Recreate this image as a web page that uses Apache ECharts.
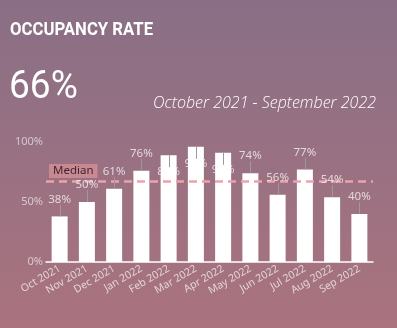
<!DOCTYPE html>
<html>
<head>
<meta charset="utf-8">
<script src="https://cdn.jsdelivr.net/npm/echarts@6/dist/echarts.min.js"></script>
<style>
html,body{margin:0;padding:0;}
#chart{width:397px;height:328px;}
</style>
</head>
<body>
<div id="chart"></div>
<script>
const titleText = 'OCCUPANCY RATE';
const headlineText = '66%';
const periodText = 'October 2021 - September 2022';
const categories = ['Oct 2021','Nov 2021','Dec 2021','Jan 2022','Feb 2022','Mar 2022','Apr 2022','May 2022','Jun 2022','Jul 2022','Aug 2022','Sep 2022'];
const occupancy = [38,50,61,76,89,96,91,74,56,77,54,40];
const medianLabel = 'Median';

const chart = echarts.init(document.getElementById('chart'));
const labelFont = 'Noto Sans';
chart.setOption({
  animation: false,
  backgroundColor: {
    type: 'linear', x: 0, y: 0, x2: 0, y2: 1,
    colorStops: [{offset: 0, color: '#896f86'}, {offset: 1, color: '#aa737e'}]
  },
  graphic: [
    {type: 'text', x: 10, y: 30, scaleX: 0.88, style: {text: titleText, font: 'bold 19px Roboto', fill: '#fff', verticalAlign: 'middle'}},
    {type: 'text', x: 9, y: 88, scaleX: 0.95, style: {text: headlineText, font: '39px Roboto', fill: '#fff', verticalAlign: 'middle'}},
    {type: 'text', x: 376, y: 103, style: {text: periodText, font: 'italic 300 16px "Open Sans"', fill: '#fff', align: 'right', verticalAlign: 'middle'}}
  ],
  grid: {left: 46, right: 24, top: 142, bottom: 66},
  xAxis: {
    type: 'category', data: categories,
    axisLine: {lineStyle: {color: '#fff', width: 1.5}},
    axisTick: {show: false},
    axisLabel: {rotate: 30, color: 'rgba(255,255,255,0.7)', fontSize: 10.5, fontFamily: labelFont, margin: 6, interval: 0}
  },
  yAxis: {
    type: 'value', min: 0, max: 100, interval: 50,
    splitLine: {show: false},
    axisLabel: {formatter: '{value}%', color: 'rgba(255,255,255,0.6)', fontSize: 11, fontFamily: labelFont, margin: 3}
  },
  series: [{
    type: 'bar',
    data: occupancy,
    barWidth: 16,
    itemStyle: {color: '#fff'},
    markLine: {
      silent: true,
      symbol: 'none',
      data: [{type: 'median', name: medianLabel}],
      lineStyle: {color: '#eba2ab', type: [8, 5], width: 2.5},
      label: {
        position: 'insideStartTop', formatter: medianLabel,
        color: '#3b2834', fontSize: 11.5, fontFamily: labelFont,
        backgroundColor: '#c98993', padding: [1, 4, 1, 4], distance: 3
      }
    }
  }, {
    type: 'custom',
    data: occupancy.map((v, i) => [i, v]),
    z: 5,
    renderItem: function (params, api) {
      const v = api.value(1);
      const top = api.coord([api.value(0), v]);
      const tall = v > 85;
      const ly = tall ? top[1] + 17 : top[1] - 17;
      const lx = Math.round(top[0]) + 0.5;
      return {
        type: 'group',
        children: [
          {type: 'line', shape: {x1: lx, y1: tall ? top[1] : ly + 5, x2: lx, y2: tall ? ly - 5 : top[1]},
           style: {stroke: '#9a9a9a', lineWidth: 1}},
          {type: 'text', x: top[0], y: ly,
           style: {text: v + '%', align: 'center', verticalAlign: 'middle', fill: 'rgba(255,255,255,0.72)', font: '11.5px "Noto Sans"'}}
        ]
      };
    }
  }]
});
</script>
</body>
</html>
